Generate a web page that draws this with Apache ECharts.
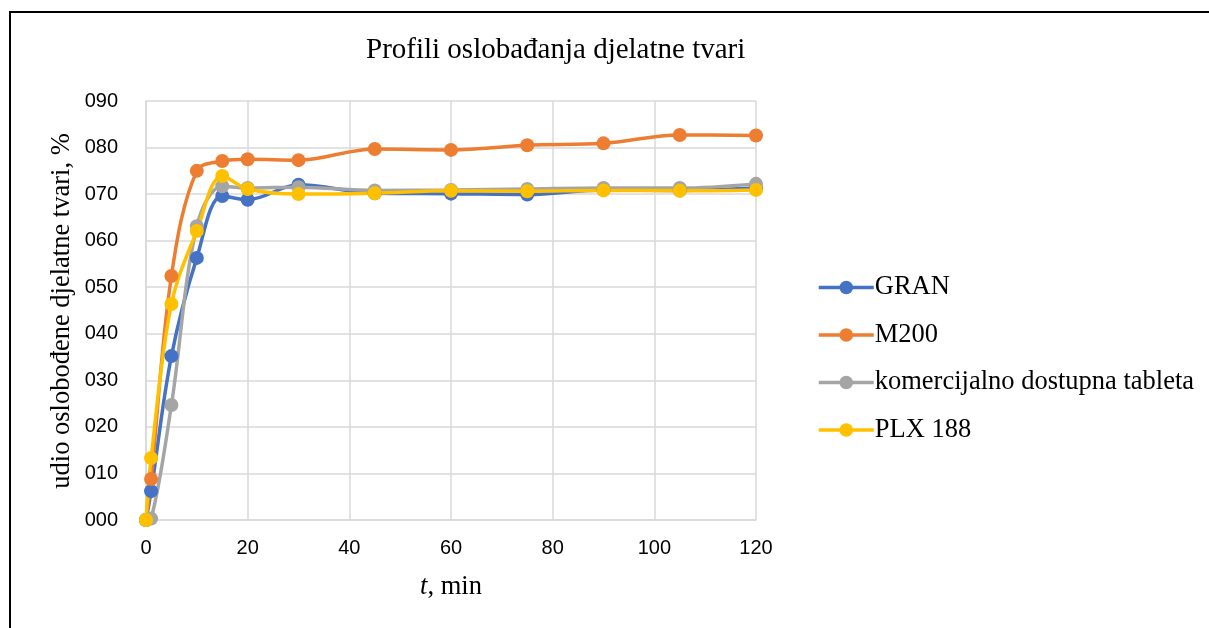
<!DOCTYPE html>
<html>
<head>
<meta charset="utf-8">
<script src="https://cdn.jsdelivr.net/npm/echarts@6/dist/echarts.min.js"></script>
<style>
    html, body { margin: 0; padding: 0; background: #fff; }
    #chart { width: 1209px; height: 628px; }
</style>
</head>
<body>
<div id="chart"></div>
<script>
// vrijeme uzorkovanja, min
var times = [0, 1, 5, 10, 15, 20, 30, 45, 60, 75, 90, 105, 120];
// udio oslobođene djelatne tvari, %
var gran = [0, 6.2, 35.2, 56.3, 69.6, 68.8, 72.0, 70.2, 70.1, 69.9, 70.9, 70.8, 71.3];
var m200 = [0, 8.8, 52.4, 75.0, 77.1, 77.5, 77.3, 79.7, 79.5, 80.5, 80.9, 82.7, 82.6];
var komercijalna = [0, 0.3, 24.7, 63.1, 71.7, 71.3, 71.5, 70.8, 70.9, 71.1, 71.3, 71.3, 72.2];
var plx188 = [0, 13.3, 46.4, 62.1, 73.9, 71.1, 70.0, 70.2, 70.7, 70.6, 70.8, 70.7, 70.9];
var seriesNames = ['GRAN', 'M200', 'komercijalno dostupna tableta', 'PLX 188'];
var colors = ['#4472C4', '#ED7D31', '#A5A5A5', '#FFC000'];

function pairs(ys) {
    var out = [];
    for (var i = 0; i < times.length; i++) {
        out.push([times[i], ys[i]]);
    }
    return out;
}

function makeSeries(name, ys, color) {
    return {
        name: name,
        type: 'line',
        data: pairs(ys),
        smooth: 0.35,
        symbol: 'circle',
        symbolSize: 14,
        lineStyle: { width: 3.5, color: color },
        itemStyle: { color: color },
        emphasis: { disabled: true }
    };
}

var myChart = echarts.init(document.getElementById('chart'));

var option = {
    animation: false,
    title: {
        text: 'Profili oslobađanja djelatne tvari',
        left: 361,
        top: 31,
        textStyle: { fontFamily: 'Liberation Serif', fontSize: 29, fontWeight: 'normal', color: '#000' }
    },
    legend: {
        orient: 'vertical',
        left: 812,
        top: 269,
        itemGap: 20.5,
        itemWidth: 55,
        itemHeight: 17,
        data: seriesNames,
        lineStyle: { width: 3.5 },
        textStyle: { fontFamily: 'Liberation Serif', fontSize: 26.5, color: '#000', padding: [0, 0, 0, -4] }
    },
    graphic: [{
        type: 'rect',
        shape: { x: 10, y: 12, width: 1250, height: 700 },
        style: { fill: 'none', stroke: '#000', lineWidth: 2 },
        silent: true
    }, {
        // naziv osi y
        type: 'text',
        x: 62,
        y: 311,
        rotation: Math.PI / 2,
        style: {
            text: 'udio oslobođene djelatne tvari, %',
            font: '26.5px "Liberation Serif"',
            fill: '#000',
            align: 'center',
            verticalAlign: 'middle'
        },
        silent: true
    }],
    grid: { left: 146, right: 453, top: 101, bottom: 108 },
    xAxis: {
        type: 'value',
        min: 0,
        max: 120,
        interval: 20,
        name: '{i|t}, min',
        nameLocation: 'middle',
        nameGap: 54,
        nameTextStyle: {
            fontFamily: 'Liberation Serif', fontSize: 26.5, color: '#000',
            rich: { i: { fontFamily: 'Liberation Serif', fontSize: 26.5, fontStyle: 'italic', color: '#000' } }
        },
        axisLine: { lineStyle: { color: '#d9d9d9', width: 1.5 } },
        axisTick: { show: false },
        splitLine: { show: true, lineStyle: { color: '#d9d9d9', width: 1.5 } },
        axisLabel: { fontFamily: 'Liberation Sans', fontSize: 20, color: '#000', margin: 18 }
    },
    yAxis: {
        type: 'value',
        min: 0,
        max: 90,
        interval: 10,
        axisLine: { show: true, lineStyle: { color: '#d9d9d9', width: 1.5 } },
        axisTick: { show: false },
        splitLine: { show: true, lineStyle: { color: '#d9d9d9', width: 1.5 } },
        axisLabel: {
            fontFamily: 'Liberation Sans', fontSize: 20, color: '#000', margin: 28,
            formatter: function (v) {
                var s = String(v);
                while (s.length < 3) s = '0' + s;
                return s;
            }
        }
    },
    series: [
        makeSeries(seriesNames[0], gran, colors[0]),
        makeSeries(seriesNames[1], m200, colors[1]),
        makeSeries(seriesNames[2], komercijalna, colors[2]),
        makeSeries(seriesNames[3], plx188, colors[3])
    ]
};

myChart.setOption(option);
</script>
</body>
</html>
